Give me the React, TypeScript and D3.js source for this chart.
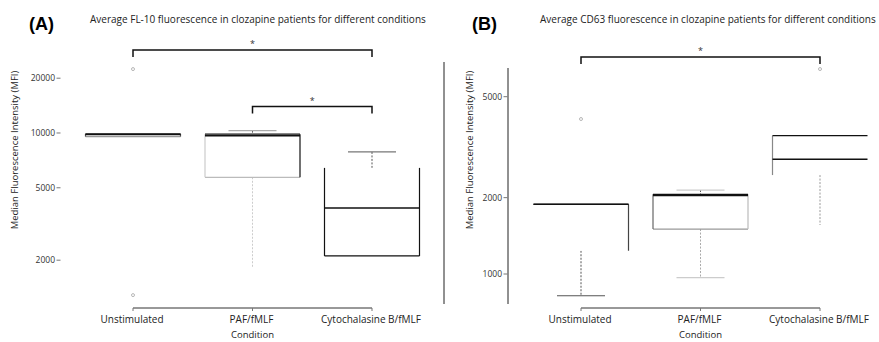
import React from "react";
import * as d3 from "d3";

const conditions = ["Unstimulated", "PAF/fMLF", "Cytochalasine B/fMLF"];

// panel A: FL-10
const fl10Lower = [9550, 1810, 2110];
const fl10Q1 = [9550, 5710, 2110];
const fl10Median = [9800, 9650, 3870];
const fl10Q3 = [9900, 9850, 6430];
const fl10Upper = [9900, 10300, 7870];
const fl10Outliers = [[22450, 1286], [], []];
const fl10Ticks = [2000, 5000, 10000, 20000];

// panel B: CD63
const cd63Lower = [821, 967, 1560];
const cd63Q1 = [1235, 1504, 2455];
const cd63Median = [1882, 2040, 2837];
const cd63Q3 = [1882, 2061, 3509];
const cd63Upper = [1882, 2143, 3509];
const cd63Outliers = [[4083], [], [6427]];
const cd63Ticks = [1000, 2000, 5000];

const FONT = "'Open Sans', 'Noto Sans', sans-serif";

// edge colours per box (top, bottom, left, right, median); "none" hides a side
const edgesA = [
  { top: "#111", bottom: "#999", left: "#555", right: "#555", median: "#111" },
  { top: "#111", bottom: "#bbb", left: "#ccc", right: "#111", median: "#111" },
  { top: "none", bottom: "#111", left: "#111", right: "#111", median: "#111" },
];
const edgesB = [
  { top: "#111", bottom: "none", left: "none", right: "#444", median: "#111" },
  { top: "#111", bottom: "#999", left: "#666", right: "#bbb", median: "#111" },
  { top: "#111", bottom: "none", left: "#888", right: "none", median: "#111" },
];

type PanelProps = {
  label: string;
  title: string;
  lower: number[];
  q1: number[];
  median: number[];
  q3: number[];
  upper: number[];
  outliers: number[][];
  ticks: number[];
  y: d3.ScaleLogarithmic<number, number>;
  x: d3.ScalePoint<string>;
  edges: typeof edgesA;
  labelX: number;
  titleX: number;
  tickRight: number;
  yLabelX: number;
  brackets: { from: number; to: number; y: number }[];
  lowerColors: string[];
  lowerCapColors: string[];
  capColors: string[];
};

function Panel(p: PanelProps) {
  const boxW = 95;
  const capW = 48;
  const [x0, x1] = p.x.range();
  return (
    <g fontFamily={FONT}>
      <text x={p.labelX} y={30} fontSize={18} fontWeight="bold" fontFamily="'Liberation Sans', Arial, sans-serif">
        {p.label}
      </text>
      <text x={p.titleX} y={23} fontSize={10} fill="#222">
        {p.title}
      </text>
      <text
        transform={`translate(${p.yLabelX},150) rotate(-90)`}
        textAnchor="middle"
        fontSize={9.5}
        fill="#222"
      >
        Median Fluorescence Intensity (MFI)
      </text>
      {p.ticks.map((t) => (
        <g key={t}>
          <text x={p.tickRight} y={p.y(t) + 3} textAnchor="end" fontSize={8.5} fill="#333">
            {t}
          </text>
          <line x1={p.tickRight + 1.5} x2={p.tickRight + 5.5} y1={p.y(t)} y2={p.y(t)} stroke="#777" />
        </g>
      ))}
      {/* x axis */}
      <line x1={x0} x2={x1} y1={308} y2={308} stroke="#333" />
      {conditions.map((c) => (
        <g key={c}>
          <line x1={p.x(c)} x2={p.x(c)} y1={308} y2={311} stroke="#777" />
          <text x={p.x(c)! - 1} y={323} textAnchor="middle" fontSize={10} fill="#222">
            {c}
          </text>
        </g>
      ))}
      <text x={(x0 + x1) / 2} y={338} textAnchor="middle" fontSize={9.5} fill="#222">
        Condition
      </text>
      {/* boxes */}
      {conditions.map((c, i) => {
        const cx = p.x(c)!;
        const l = cx - boxW / 2;
        const r = cx + boxW / 2;
        const yT = p.y(p.q3[i]);
        const yB = p.y(p.q1[i]);
        const e = p.edges[i];
        return (
          <g key={c}>
            {p.upper[i] > p.q3[i] && (
              <g>
                <line x1={cx} x2={cx} y1={p.y(p.upper[i])} y2={yT} stroke="#555" strokeDasharray="2,1.5" />
                <line x1={cx - capW / 2} x2={cx + capW / 2} y1={p.y(p.upper[i])} y2={p.y(p.upper[i])} stroke={p.capColors[i]} strokeWidth={1.2} />
              </g>
            )}
            {p.lower[i] < p.q1[i] && (
              <g>
                <line x1={cx} x2={cx} y1={yB} y2={p.y(p.lower[i])} stroke={p.lowerColors[i]} strokeDasharray="2,1.5" />
                <line x1={cx - capW / 2} x2={cx + capW / 2} y1={p.y(p.lower[i])} y2={p.y(p.lower[i])} stroke={p.lowerCapColors[i]} strokeWidth={1.2} />
              </g>
            )}
            <rect x={l} y={yT} width={boxW} height={yB - yT} fill="white" />
            <line x1={l} x2={r} y1={yB} y2={yB} stroke={e.bottom} strokeWidth={1.2} />
            <line x1={l} x2={l} y1={yT} y2={yB} stroke={e.left} strokeWidth={1.2} />
            <line x1={r} x2={r} y1={yT} y2={yB} stroke={e.right} strokeWidth={1.2} />
            <line x1={l} x2={r} y1={yT} y2={yT} stroke={e.top} strokeWidth={1.2} />
            <line x1={l} x2={r} y1={p.y(p.median[i])} y2={p.y(p.median[i])} stroke={e.median} strokeWidth={1.5} />
            {p.outliers[i].map((o, k) => (
              <circle key={k} cx={cx} cy={p.y(o)} r={1.5} fill="none" stroke="#888" strokeWidth={0.6} />
            ))}
          </g>
        );
      })}
      {/* significance brackets */}
      {p.brackets.map((b, k) => {
        const bx0 = p.x(conditions[b.from])!;
        const bx1 = p.x(conditions[b.to])!;
        return (
          <g key={k}>
            <path
              d={`M${bx0},${b.y + 7}V${b.y}H${bx1}V${b.y + 7}`}
              fill="none"
              stroke="#111"
              strokeWidth={1.5}
            />
            <text x={(bx0 + bx1) / 2} y={b.y - 3} textAnchor="middle" fontSize={9} fill="#333">
              *
            </text>
          </g>
        );
      })}
    </g>
  );
}

export default function App() {
  const yA = d3.scaleLog().domain([2000, 20000]).range([260.2, 78.2]);
  const yB = d3.scaleLog().domain([1000, 5000]).range([274, 96.7]);
  const xA = d3.scalePoint<string>().domain(conditions).range([133, 372]);
  const xB = d3.scalePoint<string>().domain(conditions).range([581, 820]);

  return (
    <svg width={879} height={342} style={{ position: "absolute", left: 0, top: 0, background: "white" }}>
      <Panel
        label="(A)"
        title="Average FL-10 fluorescence in clozapine patients for different conditions"
        lower={fl10Lower}
        q1={fl10Q1}
        median={fl10Median}
        q3={fl10Q3}
        upper={fl10Upper}
        outliers={fl10Outliers}
        ticks={fl10Ticks}
        y={yA}
        x={xA}
        edges={edgesA}
        labelX={29}
        titleX={90}
        tickRight={55}
        yLabelX={18}
        brackets={[
          { from: 0, to: 2, y: 50 },
          { from: 1, to: 2, y: 106.5 },
        ]}
        lowerColors={["#999", "#ccc", "#999"]}
        lowerCapColors={["#999", "none", "none"]}
        capColors={["#888", "#aaa", "#777"]}
      />
      <line x1={444} x2={444} y1={62} y2={304} stroke="#222" />
      <line x1={508} x2={508} y1={68} y2={304} stroke="#222" />
      <Panel
        label="(B)"
        title="Average CD63 fluorescence in clozapine patients for different conditions"
        lower={cd63Lower}
        q1={cd63Q1}
        median={cd63Median}
        q3={cd63Q3}
        upper={cd63Upper}
        outliers={cd63Outliers}
        ticks={cd63Ticks}
        y={yB}
        x={xB}
        edges={edgesB}
        labelX={472}
        titleX={540}
        tickRight={502}
        yLabelX={473}
        brackets={[{ from: 0, to: 2, y: 57 }]}
        lowerColors={["#555", "#aaa", "#999"]}
        lowerCapColors={["#555", "#ccc", "none"]}
        capColors={["#888", "#ccc", "#888"]}
      />
    </svg>
  );
}
